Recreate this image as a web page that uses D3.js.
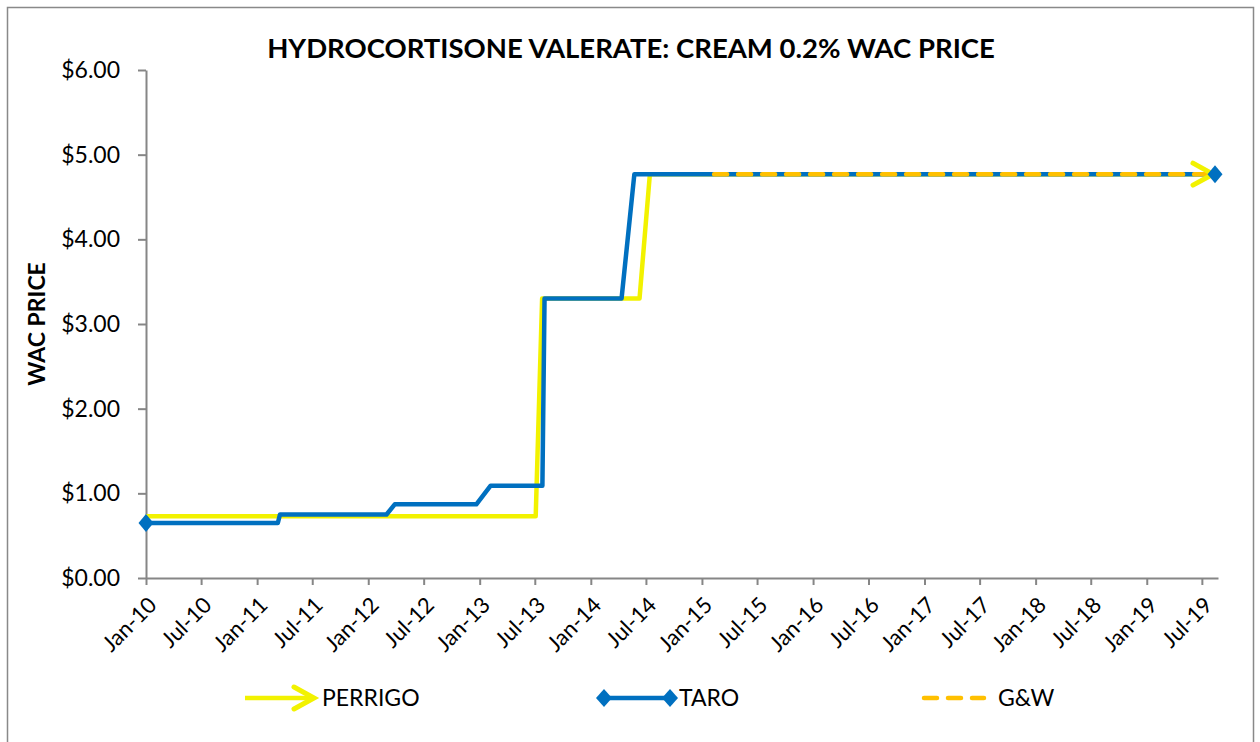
<!DOCTYPE html>
<html>
<head>
<meta charset="utf-8">
<script src="https://cdn.jsdelivr.net/npm/d3@7"></script>
<style>
  body { margin: 0; background: #fff; }
  svg { display: block; font-family: Lato, "Liberation Sans", sans-serif; }
</style>
</head>
<body>
<svg id="chart" width="1260" height="742"></svg>
<script>
// Data
var perrigoDates = ["2010-01-01", "2013-07-04", "2013-07-25", "2014-06-10", "2014-07-14", "2019-08-23"];
var perrigoValues = [0.73, 0.73, 3.30, 3.30, 4.77, 4.77];

var taroDates = ["2010-01-01", "2011-03-10", "2011-03-17", "2012-03-01", "2012-03-28", "2012-12-21",
                 "2013-02-06", "2013-07-26", "2013-08-02", "2014-04-12", "2014-05-24", "2019-08-23"];
var taroValues = [0.65, 0.65, 0.75, 0.75, 0.87, 0.87, 1.09, 1.09, 3.30, 3.30, 4.77, 4.77];

var gwDates = ["2015-02-10", "2019-08-23"];
var gwValues = [4.77, 4.77];

var yTicks = [0, 1, 2, 3, 4, 5, 6];
var xStart = "2010-01-01", xEnd = "2019-08-23";

var parse = d3.timeParse("%Y-%m-%d");
function zip(dates, vals) { return dates.map(function(d, i) { return {date: parse(d), value: vals[i]}; }); }

var series = [
  {name: "PERRIGO", data: zip(perrigoDates, perrigoValues), color: "#F2F200", dash: null},
  {name: "TARO", data: zip(taroDates, taroValues), color: "#0070C0", dash: null},
  {name: "G&W", data: zip(gwDates, gwValues), color: "#FFC000", dash: "13,11"}
];

var svg = d3.select("svg#chart");

// outer chart border
svg.append("rect")
  .attr("x", 7.5).attr("y", 7.5)
  .attr("width", 1246).attr("height", 745)
  .attr("fill", "none").attr("stroke", "#898989").attr("stroke-width", 1.5);

var x = d3.scaleTime()
  .domain([parse(xStart), parse(xEnd)])
  .range([146, 1218]);
var y = d3.scaleLinear()
  .domain([0, 6])
  .range([578, 70]);

// title
svg.append("text")
  .attr("x", 631).attr("y", 58)
  .attr("text-anchor", "middle")
  .attr("font-size", "27.5px").attr("font-weight", "bold")
  .text("HYDROCORTISONE VALERATE: CREAM 0.2% WAC PRICE");

// y axis
var yAxis = svg.append("g")
  .attr("transform", "translate(146,0)")
  .call(d3.axisLeft(y).tickValues(yTicks).tickSize(8).tickSizeOuter(0)
    .tickFormat(function(d) { return "$" + d.toFixed(2); }));
yAxis.selectAll("text").attr("font-size", "23px").attr("fill", "#000").attr("x", -26).attr("font-family", "Lato");
yAxis.selectAll("line, path").attr("stroke", "#868686").attr("stroke-width", 2);

svg.append("text")
  .attr("transform", "translate(45,324) rotate(-90)")
  .attr("text-anchor", "middle")
  .attr("font-size", "23px").attr("font-weight", "bold")
  .text("WAC PRICE");

// x axis
var xAxis = svg.append("g")
  .attr("transform", "translate(0,578)")
  .call(d3.axisBottom(x).ticks(d3.timeMonth.every(6)).tickSize(7).tickSizeOuter(0)
    .tickFormat(d3.timeFormat("%b-%y")));
xAxis.selectAll("line, path").attr("stroke", "#868686").attr("stroke-width", 2);
xAxis.selectAll("text")
  .attr("font-size", "22px").attr("fill", "#000").attr("font-family", "Lato")
  .attr("text-anchor", "end")
  .attr("y", 0).attr("dy", "0.35em")
  .attr("transform", "translate(6,23) rotate(-45)");

// lines
var line = d3.line()
  .x(function(d) { return x(d.date); })
  .y(function(d) { return y(d.value); });

var plot = svg.append("g");
series.forEach(function(s) {
  plot.append("path")
    .datum(s.data)
    .attr("d", line)
    .attr("fill", "none")
    .attr("stroke", s.color)
    .attr("stroke-width", 4.5)
    .attr("stroke-linejoin", "round")
    .attr("stroke-linecap", s.dash ? "round" : "butt")
    .attr("stroke-dasharray", s.dash);
});

// markers
function arrowHead(g, tx, ty, color) {
  g.append("path")
    .attr("d", "M" + (tx - 20) + "," + (ty - 11) + "L" + tx + "," + ty + "L" + (tx - 20) + "," + (ty + 11))
    .attr("fill", "none").attr("stroke", color).attr("stroke-width", 5)
    .attr("stroke-linecap", "round").attr("stroke-linejoin", "miter");
}
function diamond(g, cx, cy, color, w, h) {
  g.append("path")
    .attr("d", "M" + (cx - w) + "," + cy + "L" + cx + "," + (cy - h) + "L" + (cx + w) + "," + cy + "L" + cx + "," + (cy + h) + "Z")
    .attr("fill", color);
}

var pLast = series[0].data[series[0].data.length - 1];
var tFirst = series[1].data[0], tLast = series[1].data[series[1].data.length - 1];
// perrigo arrow sits beneath the taro diamond
arrowHead(plot, x(pLast.date) - 5, y(pLast.value), series[0].color);
diamond(plot, x(tFirst.date), y(tFirst.value), series[1].color, 7.5, 9);
diamond(plot, x(tLast.date) - 3, y(tLast.value), series[1].color, 7.5, 9);

// legend
var legY = 698;
var leg = svg.append("g");
leg.append("line").attr("x1", 245).attr("x2", 312).attr("y1", legY).attr("y2", legY)
  .attr("stroke", series[0].color).attr("stroke-width", 4.5);
arrowHead(leg, 314, legY, series[0].color);
leg.append("text").attr("x", 322).attr("y", legY).attr("dy", "0.36em")
  .attr("font-size", "23px").text("PERRIGO");

leg.append("line").attr("x1", 602).attr("x2", 672).attr("y1", legY).attr("y2", legY)
  .attr("stroke", series[1].color).attr("stroke-width", 4.5);
diamond(leg, 604, legY, series[1].color, 8, 9);
diamond(leg, 670, legY, series[1].color, 8, 9);
leg.append("text").attr("x", 679).attr("y", legY).attr("dy", "0.36em")
  .attr("font-size", "23px").text("TARO");

leg.append("line").attr("x1", 924).attr("x2", 984).attr("y1", legY).attr("y2", legY)
  .attr("stroke", series[2].color).attr("stroke-width", 4.5)
  .attr("stroke-linecap", "round").attr("stroke-dasharray", series[2].dash);
leg.append("text").attr("x", 998).attr("y", legY).attr("dy", "0.36em")
  .attr("font-size", "23px").text("G&W");
</script>
</body>
</html>
